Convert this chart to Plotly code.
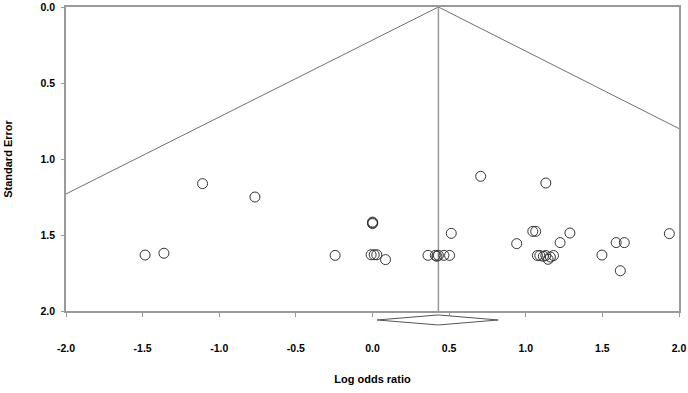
import plotly.graph_objects as go

# Study points: log odds ratio and standard error
log_or = [-1.109, -1.484, -1.361, -0.767,
          0.0, 0.0, 0.002,
          -0.244, -0.009, 0.011, 0.028, 0.085,
          0.706, 0.514,
          0.362, 0.41, 0.42, 0.43, 0.466, 0.503,
          1.131, 1.046, 1.065, 0.941, 1.288, 1.224,
          1.076, 1.092, 1.115, 1.131, 1.146, 1.161, 1.181,
          1.497, 1.59, 1.643, 1.617, 1.937]
std_err = [1.162, 1.632, 1.62, 1.25,
           1.415, 1.425, 1.42,
           1.634, 1.63, 1.63, 1.63, 1.662,
           1.114, 1.489,
           1.634, 1.634, 1.64, 1.634, 1.634, 1.634,
           1.158, 1.476, 1.476, 1.557, 1.487, 1.55,
           1.635, 1.635, 1.64, 1.635, 1.66, 1.645, 1.635,
           1.632, 1.55, 1.55, 1.735, 1.491]

# Pooled estimate and funnel limits
pooled = 0.43
funnel_x = [-2.0, 0.43, 2.0]
funnel_se = [1.23, 0.0, 0.80]
ci_low, ci_high = 0.03, 0.82

x_ticks = [-2.0, -1.5, -1.0, -0.5, 0.0, 0.5, 1.0, 1.5, 2.0]
y_ticks = [0.0, 0.5, 1.0, 1.5, 2.0]

fig = go.Figure()
fig.add_trace(go.Scatter(x=funnel_x, y=funnel_se, mode="lines",
                         line=dict(color="#707070", width=1), hoverinfo="skip"))
fig.add_trace(go.Scatter(x=[pooled, pooled], y=[0, 2], mode="lines",
                         line=dict(color="#9a9a9a", width=1.5), hoverinfo="skip"))
fig.add_trace(go.Scatter(x=log_or, y=std_err, mode="markers",
                         marker=dict(symbol="circle-open", size=10,
                                     color="#333333", line=dict(width=1))))

# Summary diamond below the axis
fig.add_shape(type="path", xref="x", yref="paper",
              path=f"M {ci_low},-0.0296 L {pooled},-0.013 L {ci_high},-0.0296 L {pooled},-0.046 Z",
              line=dict(color="#555555", width=1), fillcolor="white", layer="above")

axis_font = dict(family="Liberation Sans, Arial", size=10.5, color="black", weight="bold")
fig.update_layout(
    width=688, height=393,
    margin=dict(l=66, r=9, t=7, b=82),
    paper_bgcolor="white", plot_bgcolor="white",
    showlegend=False,
    font=dict(family="Liberation Sans, Arial"),
    xaxis=dict(range=[-2, 2], tickvals=x_ticks,
               ticktext=[f"{v:.1f}" for v in x_ticks],
               showgrid=False, zeroline=False,
               showline=True, linecolor="#9a9a9a", linewidth=1.5, mirror=True,
               ticks="outside", ticklen=4, tickcolor="#9a9a9a",
               ticklabelstandoff=23, tickfont=axis_font,
               title=dict(text="<b>Log odds ratio</b>", standoff=22,
                          font=dict(size=11, color="black")),
               automargin=False),
    yaxis=dict(range=[2, 0], tickvals=y_ticks,
               ticktext=[f"{v:.1f}" for v in y_ticks],
               showgrid=False, zeroline=False,
               showline=True, linecolor="#9a9a9a", linewidth=1.5, mirror=True,
               ticks="outside", ticklen=3, tickcolor="#9a9a9a",
               ticklabelstandoff=4, tickfont=axis_font,
               title=dict(text="<b>Standard Error</b>", standoff=26,
                          font=dict(size=11, color="black")),
               automargin=False),
)
fig.write_html("out.html", config={"displayModeBar": False},
               post_script="document.body.style.margin='0px';")
